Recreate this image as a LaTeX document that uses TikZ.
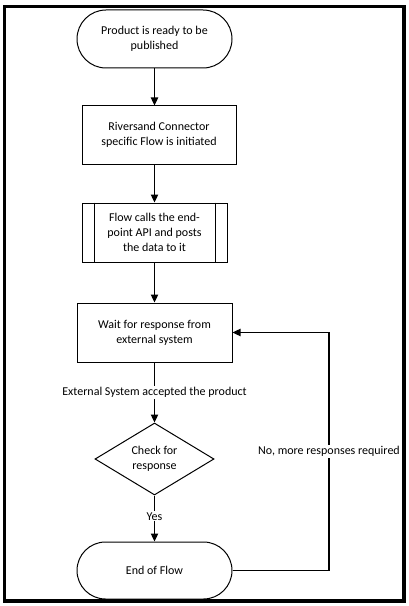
\documentclass[tikz,border=0pt]{standalone}
\usepackage{fontspec}
\setmainfont{Carlito}
\usetikzlibrary{shapes.geometric,shapes.misc,arrows.meta}
\begin{document}
\begin{tikzpicture}[x=0.75pt,y=-0.75pt,
  every node/.style={font=\fontsize{9}{11.25}\selectfont, align=center, inner sep=0pt},
  term/.style={draw, line width=0.75pt, rounded rectangle, minimum width=116.25pt, minimum height=43.5pt},
  proc/.style={draw, line width=0.75pt, rectangle, minimum height=43.5pt},
  dec/.style={draw, line width=0.75pt, diamond, aspect=1.653, minimum width=89.25pt, minimum height=54pt},
  lbl/.style={fill=white, inner sep=1pt},
  conn/.style={line width=0.9pt, -{Triangle[length=6pt,width=5.5pt]}},
  plain/.style={line width=0.9pt}]
\useasboundingbox (0,0) rectangle (409,606);
\draw[line width=2.6pt] (4.7,6.7) rectangle (404,601);
\node[term] (start) at (154.5,39) {Product is ready to be\\published};
\node[proc, minimum width=115.5pt] (p1) at (159,135) {Riversand Connector\\specific Flow is initiated};
\node[proc, minimum width=108.75pt, minimum height=44.25pt] (p2) at (154.5,232.5) {Flow calls the end-\\point API and posts\\the data to it};
\draw[line width=0.75pt] ([xshift=9.75pt]p2.north west) -- ([xshift=9.75pt]p2.south west);
\draw[line width=0.75pt] ([xshift=-9pt]p2.north east) -- ([xshift=-9pt]p2.south east);
\node[proc, minimum width=116.25pt, minimum height=44.25pt] (wait) at (154.5,332.5) {Wait for response from\\external system};
\node[dec] (chk) at (154.5,459) {Check for\\response};
\node[term, minimum height=42.75pt] (end) at (154.5,570.5) {End of Flow};
\coordinate (loopc) at (329,570.5);
\draw[conn] (start.south) -- (start.south |- p1.north);
\draw[conn] (p2.north |- p1.south) -- (p2.north);
\draw[conn] (p2.south) -- (wait.north);
\draw[conn] (wait.south) -- node[lbl, pos=0.5] (l1) {External System accepted the product} (chk.north);
\draw[conn] (chk.south) -- node[lbl, pos=0.45] (l2) {Yes} (end.north);
\draw[conn] (end.east) -- (loopc) -- node[lbl, pos=0.5] (l3) {No, more responses required} (loopc |- wait.east) -- (wait.east);
\end{tikzpicture}
\end{document}
